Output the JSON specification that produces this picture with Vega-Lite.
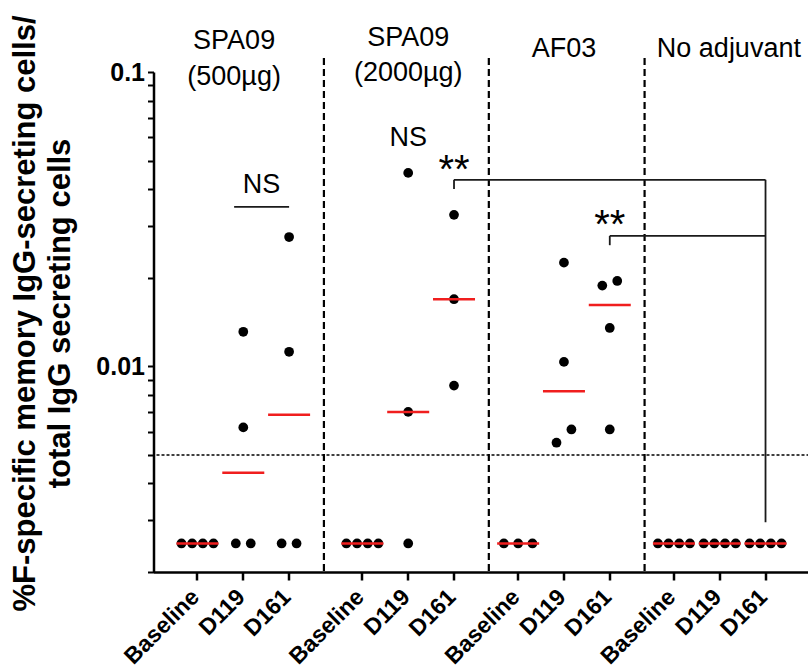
{
  "$schema": "https://vega.github.io/schema/vega-lite/v6.json",
  "width": 656,
  "height": 500,
  "autosize": {"type": "none"},
  "padding": {"left": 153.5, "top": 72, "right": 0, "bottom": 96},
  "background": "white",
  "config": {"view": {"stroke": null}, "font": "Liberation Sans", "text": {"font": "Liberation Sans"}},
  "datasets": {
    "pts": [
      {"cat": "1|Baseline", "v": 0.0025, "j": -1.5}, {"cat": "1|Baseline", "v": 0.0025, "j": -0.5}, {"cat": "1|Baseline", "v": 0.0025, "j": 0.5}, {"cat": "1|Baseline", "v": 0.0025, "j": 1.5},
      {"cat": "1|D119", "v": 0.0131, "j": 0}, {"cat": "1|D119", "v": 0.0062, "j": 0}, {"cat": "1|D119", "v": 0.0025, "j": -0.7}, {"cat": "1|D119", "v": 0.0025, "j": 0.7},
      {"cat": "1|D161", "v": 0.0275, "j": 0}, {"cat": "1|D161", "v": 0.0112, "j": 0}, {"cat": "1|D161", "v": 0.0025, "j": -0.7}, {"cat": "1|D161", "v": 0.0025, "j": 0.7},
      {"cat": "2|Baseline", "v": 0.0025, "j": -1.5}, {"cat": "2|Baseline", "v": 0.0025, "j": -0.5}, {"cat": "2|Baseline", "v": 0.0025, "j": 0.5}, {"cat": "2|Baseline", "v": 0.0025, "j": 1.5},
      {"cat": "2|D119", "v": 0.0454, "j": 0}, {"cat": "2|D119", "v": 0.0070, "j": 0}, {"cat": "2|D119", "v": 0.0025, "j": 0},
      {"cat": "2|D161", "v": 0.0327, "j": 0}, {"cat": "2|D161", "v": 0.0169, "j": 0}, {"cat": "2|D161", "v": 0.0086, "j": 0},
      {"cat": "3|Baseline", "v": 0.0025, "j": -1.34}, {"cat": "3|Baseline", "v": 0.0025, "j": 0}, {"cat": "3|Baseline", "v": 0.0025, "j": 1.34},
      {"cat": "3|D119", "v": 0.0225, "j": 0}, {"cat": "3|D119", "v": 0.01035, "j": 0}, {"cat": "3|D119", "v": 0.0061, "j": 0.7}, {"cat": "3|D119", "v": 0.0055, "j": -0.7},
      {"cat": "3|D161", "v": 0.0195, "j": 0.7}, {"cat": "3|D161", "v": 0.0188, "j": -0.7}, {"cat": "3|D161", "v": 0.0135, "j": 0}, {"cat": "3|D161", "v": 0.0061, "j": 0},
      {"cat": "4|Baseline", "v": 0.0025, "j": -1.5}, {"cat": "4|Baseline", "v": 0.0025, "j": -0.5}, {"cat": "4|Baseline", "v": 0.0025, "j": 0.5}, {"cat": "4|Baseline", "v": 0.0025, "j": 1.5},
      {"cat": "4|D119", "v": 0.0025, "j": -1.5}, {"cat": "4|D119", "v": 0.0025, "j": -0.5}, {"cat": "4|D119", "v": 0.0025, "j": 0.5}, {"cat": "4|D119", "v": 0.0025, "j": 1.5},
      {"cat": "4|D161", "v": 0.0025, "j": -1.5}, {"cat": "4|D161", "v": 0.0025, "j": -0.5}, {"cat": "4|D161", "v": 0.0025, "j": 0.5}, {"cat": "4|D161", "v": 0.0025, "j": 1.5}
    ],
    "seps": [
      {"cat": "s14", "v": 0.1116, "v2": 0.002},
      {"cat": "s32", "v": 0.1116, "v2": 0.002},
      {"cat": "s49", "v": 0.1116, "v2": 0.002}
    ],
    "hrules": [
      {"cat": "2|D161", "cat2": "4|D161", "v": 0.0430},
      {"cat": "3|D161", "cat2": "4|D161", "v": 0.02774},
      {"cat": "s4", "cat2": "1|D161", "v": 0.03483}
    ],
    "vrules": [
      {"cat": "2|D161", "v": 0.0430, "v2": 0.0400},
      {"cat": "3|D161", "v": 0.02774, "v2": 0.02579},
      {"cat": "4|D161", "v": 0.0430, "v2": 0.00295}
    ],
    "labels": [
      {"cat": "s4", "v": 0.1275, "t": "SPA09"},
      {"cat": "s4", "v": 0.0962, "t": "(500µg)"},
      {"cat": "2|D119", "v": 0.1305, "t": "SPA09"},
      {"cat": "2|D119", "v": 0.0996, "t": "(2000µg)"},
      {"cat": "3|D119", "v": 0.12, "t": "AF03"},
      {"cat": "s58", "v": 0.12, "t": "No adjuvant"},
      {"cat": "s7", "v": 0.04123, "t": "NS"},
      {"cat": "2|D119", "v": 0.0598, "t": "NS"}
    ],
    "stars": [
      {"cat": "2|D161", "v": 0.0418, "t": "**"},
      {"cat": "3|D161", "v": 0.0272, "t": "**"}
    ],
    "lod": [{"v": 0.005}]
  },
  "encoding": {
    "y": {
      "field": "v",
      "type": "quantitative",
      "scale": {"type": "log", "domain": [0.002, 0.1], "nice": false},
      "axis": {
        "values": [0.002, 0.003, 0.004, 0.005, 0.006, 0.007, 0.008, 0.009, 0.01, 0.02, 0.03, 0.04, 0.05, 0.06, 0.07, 0.08, 0.09, 0.1],
        "labelExpr": "datum.value === 0.1 ? '0.1' : (datum.value === 0.01 ? '0.01' : '')",
        "labelFontSize": 25,
        "labelFontWeight": "bold",
        "labelColor": "black",
        "labelFont": "Liberation Sans",
        "labelPadding": 3,
        "labelFlush": false,
        "labelOverlap": false,
        "tickSize": 6,
        "tickWidth": 2,
        "tickColor": "black",
        "domainWidth": 2.5,
        "domainColor": "black",
        "grid": false,
        "title": ["%F-specific memory IgG-secreting cells/", "total IgG secreting cells"],
        "titleFont": "Liberation Sans",
        "titleFontSize": 31,
        "titleFontWeight": "bold",
        "titleColor": "black",
        "titleLineHeight": 35,
        "titleAngle": -90,
        "titleAlign": "center",
        "titleBaseline": "bottom",
        "titleX": -112,
        "titleY": 241
      }
    }
  },
  "layer": [
    {
      "data": {"name": "lod"},
      "mark": {"type": "rule", "color": "black", "strokeWidth": 1.5, "strokeDash": [3, 2]},
      "encoding": {}
    },
    {
      "encoding": {
        "x": {
          "field": "cat",
          "type": "nominal",
          "scale": {
            "type": "band",
            "paddingInner": 0,
            "paddingOuter": 0.3,
            "domain": ["l1", "l2", "l3", "l4", "1|Baseline", "s1", "s2", "s3", "s4", "1|D119", "s6", "s7", "s8", "s9", "1|D161", "s11", "s12", "s13", "s14", "s15", "s16", "s17", "2|Baseline", "s19", "s20", "s21", "s22", "2|D119", "s24", "s25", "s26", "s27", "2|D161", "s29", "s30", "s31", "s32", "s33", "s34", "3|Baseline", "s36", "s37", "s38", "s39", "3|D119", "s41", "s42", "s43", "s44", "3|D161", "s46", "s47", "s48", "s49", "s50", "s51", "4|Baseline", "s53", "s54", "s55", "s56", "4|D119", "s58", "s59", "s60", "s61", "4|D161", "r1", "r2", "r3", "r4"]
          },
          "axis": {
            "values": ["1|Baseline", "1|D119", "1|D161", "2|Baseline", "2|D119", "2|D161", "3|Baseline", "3|D119", "3|D161", "4|Baseline", "4|D119", "4|D161"],
            "labelExpr": "split(datum.value, '|')[1]",
            "labelAngle": -45,
            "labelAlign": "right",
            "labelBaseline": "alphabetic",
            "labelFontSize": 23,
            "labelFontWeight": "bold",
            "labelColor": "black",
            "labelFont": "Liberation Sans",
            "labelPadding": 18,
            "labelOffset": 3,
            "tickSize": 8,
            "tickWidth": 2.5,
            "tickColor": "black",
            "domainWidth": 2.5,
            "domainColor": "black",
            "grid": false,
            "title": null
          }
        }
      },
      "layer": [
        {
          "data": {"name": "seps"},
          "mark": {"type": "rule", "color": "black", "strokeWidth": 2.2, "strokeDash": [7, 4]},
          "encoding": {
            "x": {"field": "cat", "type": "nominal", "bandPosition": 0.3},
            "y2": {"field": "v2"}
          }
        },
        {
          "data": {"name": "hrules"},
          "mark": {"type": "rule", "color": "#1a1a1a", "strokeWidth": 1.8},
          "encoding": {"x2": {"field": "cat2"}}
        },
        {
          "data": {"name": "vrules"},
          "mark": {"type": "rule", "color": "#1a1a1a", "strokeWidth": 1.8},
          "encoding": {"y2": {"field": "v2"}}
        },
        {
          "data": {"name": "pts"},
          "mark": {"type": "circle", "color": "black", "size": 95, "opacity": 1},
          "encoding": {
            "xOffset": {"field": "j", "type": "quantitative", "scale": {"domain": [-1.5, 1.5], "range": [-11.42, 20.58]}}
          }
        },
        {
          "data": {"name": "pts"},
          "mark": {"type": "tick", "color": "#f01e1e", "size": 42, "thickness": 2.5},
          "encoding": {
            "y": {"aggregate": "median", "field": "v", "type": "quantitative"}
          }
        },
        {
          "data": {"name": "labels"},
          "mark": {"type": "text", "fontSize": 27, "color": "black", "align": "center", "baseline": "middle", "font": "Liberation Sans"},
          "encoding": {"text": {"field": "t"}}
        },
        {
          "data": {"name": "stars"},
          "mark": {"type": "text", "fontSize": 40, "color": "black", "align": "center", "baseline": "alphabetic", "font": "Liberation Sans"},
          "encoding": {"text": {"field": "t"}}
        }
      ]
    }
  ]
}
